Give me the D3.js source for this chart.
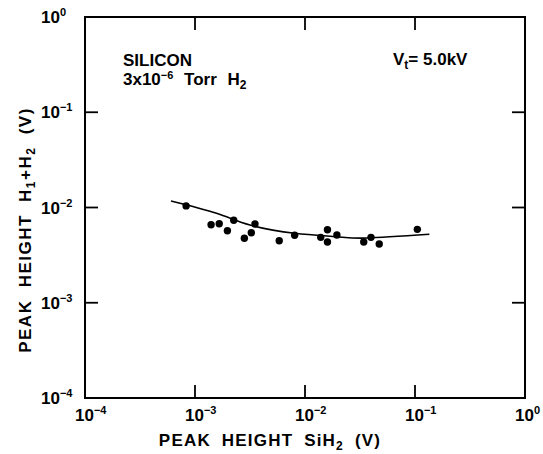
<!DOCTYPE html>
<html>
<head>
<meta charset="utf-8">
<script src="https://cdn.jsdelivr.net/npm/d3@7"></script>
<style>
    body { margin: 0; background: #fff; }
    svg { font-family: "Liberation Sans", Arial, sans-serif; font-weight: bold; }
</style>
</head>
<body>
<div id="chart"></div>
<script>
// Measured points (peak height SiH2 vs peak height H1+H2, volts)
var sih2 = [8.3e-4, 1.40e-3, 1.66e-3, 1.97e-3, 2.25e-3, 2.81e-3, 3.25e-3, 3.51e-3, 5.83e-3,
    8.05e-3, 1.39e-2, 1.60e-2, 1.60e-2, 1.95e-2, 3.42e-2, 3.98e-2, 4.73e-2, 0.105];
var h1h2 = [1.04e-2, 6.6e-3, 6.76e-3, 5.71e-3, 7.34e-3, 4.75e-3, 5.44e-3, 6.71e-3, 4.48e-3,
    5.11e-3, 4.86e-3, 5.85e-3, 4.34e-3, 5.14e-3, 4.34e-3, 4.86e-3, 4.14e-3, 5.90e-3];

// Fitted curve
var fitX = [6.05e-4, 1.57e-3, 3.16e-3, 8.05e-3, 1.94e-2, 3.64e-2, 0.135];
var fitY = [1.17e-2, 8.69e-3, 6.55e-3, 5.36e-3, 4.93e-3, 4.78e-3, 5.23e-3];

// Decade ticks
var decades = [-4, -3, -2, -1, 0];

var svgWidth = 543, svgHeight = 454;
var plotL = 85, plotR = 525, plotT = 17, plotB = 398;

var svg = d3.select("#chart").append("svg")
    .attr("width", svgWidth)
    .attr("height", svgHeight);

var x = d3.scaleLog().domain([1e-4, 1]).range([plotL, plotR]);
var y = d3.scaleLog().domain([1e-4, 1]).range([plotB, plotT]);

// Frame
svg.append("rect")
    .attr("x", plotL).attr("y", plotT)
    .attr("width", plotR - plotL).attr("height", plotB - plotT)
    .attr("fill", "none").attr("stroke", "#000").attr("stroke-width", 2);

// Inward ticks on all four sides
var tickLen = 13;
var inner = decades.slice(1, -1);
inner.forEach(function(e) {
    var v = Math.pow(10, e);
    svg.append("line").attr("x1", x(v)).attr("x2", x(v))
        .attr("y1", plotB).attr("y2", plotB - tickLen)
        .attr("stroke", "#000").attr("stroke-width", 1.8);
    svg.append("line").attr("x1", x(v)).attr("x2", x(v))
        .attr("y1", plotT).attr("y2", plotT + tickLen)
        .attr("stroke", "#000").attr("stroke-width", 1.8);
    svg.append("line").attr("y1", y(v)).attr("y2", y(v))
        .attr("x1", plotL).attr("x2", plotL + tickLen)
        .attr("stroke", "#000").attr("stroke-width", 1.8);
    svg.append("line").attr("y1", y(v)).attr("y2", y(v))
        .attr("x1", plotR).attr("x2", plotR - tickLen)
        .attr("stroke", "#000").attr("stroke-width", 1.8);
});

function expLabel(g, e) {
    g.append("tspan").text("10");
    g.append("tspan").attr("dy", -7).attr("font-size", 11)
        .text(e < 0 ? "\u2212" + (-e) : e);
}

// X tick labels
decades.forEach(function(e) {
    var t = svg.append("text")
        .attr("x", x(Math.pow(10, e)) - 10)
        .attr("y", 421)
        .attr("font-size", 17);
    expLabel(t, e);
});

// Y tick labels
decades.forEach(function(e) {
    var t = svg.append("text")
        .attr("x", 41)
        .attr("y", y(Math.pow(10, e)) + 6)
        .attr("font-size", 17);
    expLabel(t, e);
});

// X axis title
var xt = svg.append("text")
    .attr("x", 270).attr("y", 446)
    .attr("text-anchor", "middle")
    .attr("font-size", 17)
    .attr("letter-spacing", 1.2)
    .attr("word-spacing", 5);
xt.append("tspan").text("PEAK HEIGHT SiH");
xt.append("tspan").attr("dy", 4).attr("font-size", 12).text("2");
xt.append("tspan").attr("dy", -4).text(" (V)");

// Y axis title
var yt = svg.append("text")
    .attr("transform", "translate(31,230) rotate(-90)")
    .attr("text-anchor", "middle")
    .attr("font-size", 17)
    .attr("letter-spacing", 1.5)
    .attr("word-spacing", 6);
yt.append("tspan").text("PEAK HEIGHT H");
yt.append("tspan").attr("dy", 4).attr("font-size", 12).text("1");
yt.append("tspan").attr("dy", -4).text("+H");
yt.append("tspan").attr("dy", 4).attr("font-size", 12).text("2");
yt.append("tspan").attr("dy", -4).text(" (V)");

// Annotations
svg.append("text")
    .attr("x", 123).attr("y", 66)
    .attr("font-size", 17)
    .text("SILICON");

var note = svg.append("text")
    .attr("x", 123).attr("y", 85)
    .attr("font-size", 17)
    .attr("word-spacing", 6);
note.append("tspan").text("3x10");
note.append("tspan").attr("dy", -6).attr("font-size", 11).text("\u22126");
note.append("tspan").attr("dy", 6).text(" Torr  H");
note.append("tspan").attr("dy", 4).attr("font-size", 12).text("2");

var vt = svg.append("text")
    .attr("x", 393).attr("y", 65)
    .attr("font-size", 17);
vt.append("tspan").text("V");
vt.append("tspan").attr("dy", 4).attr("font-size", 12).text("t");
vt.append("tspan").attr("dy", -4).text("= 5.0kV");

// Fitted curve
var fit = fitX.map(function(v, i) { return [v, fitY[i]]; });
var line = d3.line()
    .x(d => x(d[0]))
    .y(d => y(d[1]))
    .curve(d3.curveNatural);

svg.append("path")
    .datum(fit)
    .attr("d", line)
    .attr("fill", "none")
    .attr("stroke", "#000")
    .attr("stroke-width", 1.6);

// Data points
svg.selectAll(".dot")
    .data(sih2)
    .enter().append("circle")
        .attr("class", "dot")
        .attr("r", 3.7)
        .attr("cx", d => x(d))
        .attr("cy", (d, i) => y(h1h2[i]))
        .attr("fill", "#000");
</script>
</body>
</html>
